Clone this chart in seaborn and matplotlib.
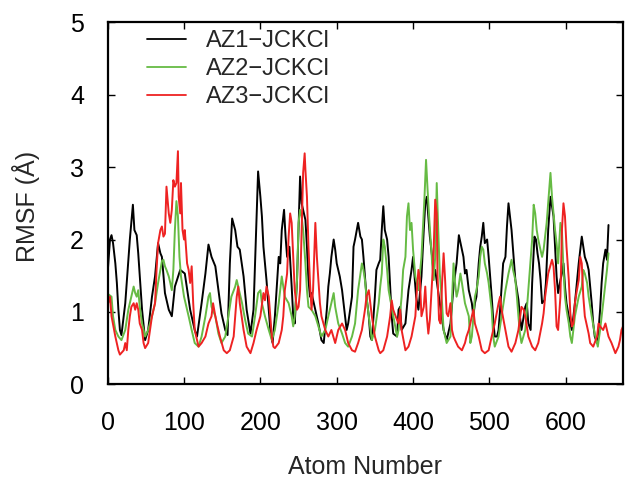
import matplotlib
matplotlib.use("Agg")
import matplotlib.pyplot as plt
import pandas as pd
import seaborn as sns

# ---- data ----
series_names = ["AZ1\u2212JCKCl", "AZ2\u2212JCKCl", "AZ3\u2212JCKCl"]
series_colors = ["#000000", "#66bb44", "#ee2222"]

az1_atom = [
    0, 3, 5, 7, 10, 12, 14, 16, 18, 23,
    27, 29, 33, 35, 38, 40, 42, 45, 49, 53,
    58, 62, 66, 69, 71, 75, 80, 84, 88, 95,
    101, 108, 114, 117, 123, 128, 132, 136, 141, 145,
    149, 154, 157, 160, 163, 167, 170, 173, 178, 182,
    187, 191, 193, 197, 200, 202, 204, 208, 213, 216,
    219, 224, 226, 228, 231, 233, 235, 238, 241, 243,
    245, 248, 250, 252, 254, 256, 259, 261, 263, 265,
    267, 272, 276, 280, 283, 285, 287, 289, 291, 293,
    296, 298, 300, 302, 304, 307, 311, 313, 315, 320,
    322, 324, 328, 331, 333, 335, 337, 339, 342, 344,
    346, 350, 352, 355, 357, 359, 361, 363, 366, 368,
    370, 372, 374, 379, 381, 383, 385, 390, 394, 398,
    400, 404, 407, 411, 414, 416, 418, 420, 422, 425,
    427, 429, 435, 440, 444, 449, 453, 457, 460, 464,
    466, 468, 470, 473, 477, 479, 481, 483, 486, 488,
    490, 492, 494, 497, 499, 501, 503, 505, 507, 510,
    512, 514, 516, 518, 521, 523, 525, 527, 529, 531,
    534, 536, 538, 540, 542, 545, 547, 549, 551, 554,
    556, 559, 561, 563, 565, 567, 569, 572, 574, 577,
    580, 582, 584, 586, 588, 590, 593, 595, 597, 599,
    601, 604, 608, 612, 617, 621, 623, 625, 628, 630,
    632, 634, 636, 638, 641, 643, 645, 647, 649, 652,
    654, 656,
]
az1_rmsf = [
    1.55, 2.00, 2.06, 1.95, 1.67, 1.40, 1.03, 0.75, 0.68, 1.12,
    1.72, 2.00, 2.48, 2.13, 2.06, 1.81, 1.49, 1.03, 0.61, 0.75,
    1.21, 1.49, 1.95, 1.81, 1.76, 1.26, 1.03, 0.94, 1.35, 1.58,
    1.53, 1.03, 0.75, 0.66, 1.12, 1.53, 1.93, 1.76, 1.63, 1.30,
    0.98, 0.75, 0.68, 1.67, 2.29, 2.13, 1.90, 1.86, 1.49, 1.03,
    0.70, 1.03, 1.67, 2.94, 2.59, 2.32, 1.90, 1.44, 0.75, 0.57,
    0.94, 1.76, 1.67, 2.13, 2.41, 2.04, 1.76, 1.90, 1.35, 0.94,
    0.84, 1.44, 2.13, 2.87, 2.50, 2.41, 2.27, 1.90, 1.44, 1.21,
    1.26, 1.03, 0.84, 0.61, 0.57, 0.80, 1.03, 1.35, 1.53, 1.76,
    2.00, 1.86, 1.67, 1.58, 1.49, 1.30, 0.94, 0.75, 0.84, 1.21,
    1.90, 2.00, 2.23, 2.04, 2.00, 1.76, 1.49, 1.21, 0.94, 0.66,
    0.61, 1.21, 1.58, 1.67, 1.72, 2.13, 2.46, 2.13, 2.00, 1.76,
    1.35, 0.94, 0.70, 0.66, 1.03, 1.07, 0.75, 0.84, 1.30, 1.58,
    1.76, 1.21, 1.03, 1.49, 2.13, 2.50, 2.59, 2.32, 2.04, 1.76,
    1.53, 1.58, 1.12, 0.75, 0.61, 0.84, 1.35, 1.67, 2.06, 1.86,
    1.76, 1.53, 1.58, 1.30, 1.12, 0.94, 1.12, 1.21, 1.67, 1.90,
    2.04, 2.23, 1.95, 2.00, 1.76, 1.49, 1.21, 0.89, 0.66, 0.66,
    0.75, 1.03, 1.35, 1.67, 1.76, 2.18, 2.50, 2.32, 2.13, 1.86,
    1.44, 1.30, 1.17, 0.94, 0.75, 0.94, 1.07, 1.12, 0.84, 0.75,
    1.40, 2.04, 2.00, 1.81, 1.67, 1.44, 1.12, 1.16, 1.40, 2.13,
    2.59, 2.46, 2.32, 1.90, 1.49, 1.26, 1.44, 1.53, 1.67, 1.35,
    1.12, 0.94, 0.75, 1.12, 1.67, 2.04, 1.90, 1.76, 1.67, 1.58,
    1.35, 1.12, 0.84, 0.66, 0.57, 0.75, 1.03, 1.40, 1.67, 1.86,
    1.72, 2.20,
]

az2_atom = [
    0, 5, 7, 10, 14, 18, 23, 25, 27, 29,
    31, 34, 36, 38, 40, 42, 45, 49, 53, 58,
    62, 66, 69, 71, 73, 75, 77, 80, 82, 84,
    86, 88, 90, 92, 94, 96, 98, 100, 104, 106,
    110, 114, 119, 123, 128, 132, 134, 136, 141, 145,
    149, 154, 158, 162, 167, 169, 171, 176, 180, 184,
    189, 193, 197, 200, 202, 206, 211, 215, 219, 224,
    228, 230, 232, 237, 241, 243, 245, 248, 250, 252,
    254, 256, 259, 261, 263, 267, 272, 276, 280, 285,
    289, 293, 296, 298, 302, 307, 311, 315, 320, 324,
    328, 333, 335, 337, 339, 342, 346, 350, 355, 357,
    359, 361, 363, 366, 368, 372, 376, 379, 381, 385,
    387, 390, 392, 394, 396, 398, 400, 403, 405, 407,
    411, 415, 417, 419, 421, 425, 427, 429, 431, 433,
    435, 438, 440, 444, 449, 453, 455, 457, 459, 462,
    464, 468, 473, 475, 477, 481, 483, 486, 488, 490,
    492, 494, 497, 499, 503, 505, 507, 512, 516, 521,
    525, 529, 531, 534, 536, 538, 540, 542, 547, 551,
    553, 556, 558, 560, 562, 564, 566, 569, 571, 575,
    580, 582, 584, 586, 588, 590, 593, 595, 597, 599,
    601, 604, 606, 608, 610, 612, 617, 621, 623, 625,
    628, 630, 634, 638, 642, 645, 649, 654, 656,
]
az2_rmsf = [
    1.25, 1.21, 0.94, 0.75, 0.66, 0.61, 0.75, 0.89, 1.03, 1.12,
    1.21, 1.35, 1.26, 1.21, 1.30, 1.07, 0.84, 0.66, 0.75, 0.94,
    1.12, 1.40, 1.58, 1.70, 1.72, 1.63, 1.58, 1.49, 1.40, 1.30,
    1.58, 2.13, 2.53, 2.32, 1.76, 1.49, 1.35, 1.21, 1.03, 0.94,
    0.75, 0.57, 0.52, 0.66, 0.94, 1.21, 1.26, 1.07, 0.94, 0.70,
    0.57, 0.66, 0.94, 1.21, 1.35, 1.44, 1.35, 1.12, 0.89, 0.70,
    0.66, 0.94, 1.26, 1.30, 1.12, 0.94, 0.75, 0.61, 0.75, 1.12,
    1.49, 1.35, 1.21, 1.12, 0.94, 0.80, 0.94, 1.44, 2.23, 2.41,
    2.32, 2.13, 1.67, 1.30, 1.07, 1.03, 0.94, 0.80, 0.66, 0.75,
    0.94, 1.12, 1.26, 1.07, 0.84, 0.70, 0.57, 0.52, 0.66, 0.84,
    1.30, 1.67, 1.58, 1.44, 1.21, 0.94, 0.61, 0.75, 1.12, 1.35,
    1.53, 2.00, 1.90, 1.58, 1.30, 1.07, 0.84, 0.66, 0.75, 1.21,
    1.58, 1.76, 2.32, 2.50, 2.13, 2.23, 1.86, 1.49, 1.40, 1.30,
    1.76, 2.59, 3.10, 2.69, 2.32, 1.67, 1.44, 1.76, 2.78, 2.13,
    1.53, 1.12, 0.75, 0.57, 0.66, 1.67, 1.40, 1.21, 1.30, 1.53,
    1.40, 1.12, 0.94, 0.57, 0.66, 1.21, 1.30, 1.49, 1.76, 1.90,
    1.86, 1.67, 1.53, 1.40, 1.03, 0.66, 0.52, 0.66, 0.94, 1.30,
    1.53, 1.72, 1.58, 1.44, 1.21, 0.94, 0.70, 0.57, 0.75, 1.30,
    1.58, 2.00, 2.48, 2.36, 2.13, 2.00, 1.90, 1.76, 1.86, 2.23,
    2.92, 2.59, 2.36, 2.13, 1.95, 1.67, 2.23, 2.13, 1.58, 1.21,
    1.03, 0.84, 0.66, 0.57, 0.75, 0.94, 1.21, 1.35, 1.58, 1.53,
    1.40, 1.21, 0.94, 0.70, 0.52, 0.75, 1.12, 1.58, 1.81,
]

az3_atom = [
    0, 3, 5, 10, 14, 16, 21, 23, 25, 27,
    29, 31, 34, 36, 38, 40, 42, 45, 47, 49,
    53, 58, 62, 64, 66, 69, 71, 73, 75, 77,
    80, 82, 84, 86, 88, 90, 92, 93, 95, 96,
    98, 100, 101, 104, 106, 108, 110, 112, 114, 117,
    119, 123, 128, 132, 136, 138, 141, 143, 147, 152,
    156, 160, 165, 167, 169, 171, 173, 178, 182, 187,
    191, 195, 200, 204, 206, 208, 211, 213, 215, 217,
    219, 224, 228, 230, 232, 235, 237, 239, 241, 243,
    245, 248, 250, 252, 254, 256, 258, 259, 261, 263,
    265, 267, 269, 272, 274, 276, 278, 280, 285, 289,
    293, 298, 302, 307, 311, 315, 320, 324, 328, 333,
    337, 339, 342, 344, 346, 350, 355, 357, 361, 366,
    370, 372, 374, 379, 381, 383, 385, 390, 394, 398,
    403, 405, 407, 409, 411, 414, 416, 418, 420, 422,
    425, 427, 429, 431, 432, 434, 436, 438, 440, 442,
    444, 446, 449, 451, 453, 455, 459, 464, 468, 470,
    473, 475, 477, 479, 481, 486, 490, 494, 499, 503,
    507, 512, 514, 516, 521, 525, 529, 534, 538, 542,
    545, 547, 551, 556, 560, 564, 569, 571, 573, 577,
    582, 584, 586, 588, 590, 593, 595, 597, 599, 601,
    604, 606, 608, 610, 612, 614, 617, 619, 621, 623,
    625, 630, 632, 636, 641, 643, 645, 649, 652, 656,
    660, 665, 669, 671, 673, 675,
]
az3_rmsf = [
    1.10, 1.21, 0.94, 0.66, 0.47, 0.41, 0.47, 0.57, 0.47, 0.75,
    0.94, 1.07, 1.12, 1.03, 1.12, 1.03, 0.84, 0.75, 0.57, 0.50,
    0.57, 0.94, 1.12, 1.58, 1.95, 2.13, 2.18, 2.04, 2.08, 2.73,
    2.36, 2.23, 2.41, 2.82, 2.73, 2.78, 3.22, 2.59, 2.36, 2.78,
    2.13, 2.00, 2.13, 1.67, 1.58, 1.40, 1.63, 1.12, 0.75, 0.61,
    0.52, 0.57, 0.66, 0.84, 0.94, 1.12, 0.94, 0.84, 0.66, 0.47,
    0.43, 0.47, 0.66, 0.94, 1.21, 1.35, 1.12, 0.75, 0.52, 0.43,
    0.57, 0.75, 0.94, 1.26, 1.16, 1.35, 1.21, 0.94, 0.66, 0.52,
    0.50, 0.57, 0.75, 0.94, 1.30, 1.53, 2.04, 2.36, 2.23, 1.76,
    1.30, 1.03, 1.07, 1.30, 2.13, 2.92, 3.19, 2.96, 2.59, 1.90,
    1.40, 1.03, 1.30, 2.23, 1.76, 1.44, 1.12, 0.94, 0.75, 0.66,
    0.75, 0.57, 0.75, 0.84, 0.75, 0.57, 0.47, 0.45, 0.57, 0.75,
    1.03, 1.21, 1.30, 1.12, 0.94, 0.66, 0.47, 0.43, 0.47, 0.66,
    0.94, 1.16, 1.03, 0.89, 0.84, 1.03, 0.75, 0.47, 0.52, 0.66,
    0.94, 1.30, 1.58, 1.44, 0.94, 1.07, 1.35, 0.94, 0.70, 0.89,
    1.44, 1.86, 2.55, 2.36, 1.53, 0.89, 0.84, 1.40, 1.81, 1.44,
    0.98, 0.94, 1.12, 0.75, 0.66, 0.61, 0.52, 0.47, 0.57, 0.66,
    0.75, 0.84, 0.94, 1.03, 0.84, 0.66, 0.47, 0.43, 0.47, 0.66,
    0.84, 1.12, 1.21, 1.03, 0.75, 0.52, 0.45, 0.57, 0.75, 1.07,
    1.03, 0.94, 0.66, 0.52, 0.47, 0.57, 0.84, 0.98, 1.21, 1.53,
    1.72, 1.63, 1.30, 0.80, 0.75, 1.21, 2.13, 2.50, 2.32, 1.90,
    1.44, 0.98, 0.80, 0.84, 1.12, 1.26, 1.44, 1.76, 1.67, 1.21,
    0.94, 0.70, 0.57, 0.52, 0.66, 0.84, 0.80, 0.75, 0.84, 0.66,
    0.57, 0.43, 0.52, 0.61, 0.75, 0.80,
]

x_ticks = [0, 100, 200, 300, 400, 500, 600]
y_ticks = [0, 1, 2, 3, 4, 5]
x_label = "Atom Number"
y_label = "RMSF (\u00c5)"

# ---- build long table ----
frames = []
for name, xs, ys in zip(series_names,
                        [az1_atom, az2_atom, az3_atom],
                        [az1_rmsf, az2_rmsf, az3_rmsf]):
    frames.append(pd.DataFrame({"Atom": xs, "RMSF": ys, "System": name}))
df = pd.concat(frames, ignore_index=True)

sns.set_style("ticks")
plt.rcParams["font.family"] = ["Liberation Sans", "DejaVu Sans"]

W, H = 627, 479
fig = plt.figure(figsize=(W / 100, H / 100), dpi=100)
left, right, top, bottom = 107.7, 623.0, 22.3, 384.3
ax = fig.add_axes([left / W, 1 - bottom / H, (right - left) / W, (bottom - top) / H])

sns.lineplot(data=df, x="Atom", y="RMSF", hue="System",
             hue_order=series_names, palette=series_colors,
             estimator=None, sort=False, linewidth=1.4, ax=ax)

ax.set_xlim(0, 675)
ax.set_ylim(0, 5)
ax.set_xticks(x_ticks)
ax.set_yticks(y_ticks)
for s in ax.spines.values():
    s.set_visible(True)
    s.set_linewidth(1.6)
    s.set_color("black")
ax.tick_params(direction="in", length=5, width=1.0, top=True, right=True,
               labelsize=18, colors="black")
ax.tick_params(axis="x", pad=19)
ax.tick_params(axis="y", pad=17)

ax.set_xlabel(x_label, fontsize=18)
ax.set_ylabel(y_label, fontsize=18)
ax.xaxis.set_label_coords(0.5, (bottom - 474) / (bottom - top))
ax.xaxis.label.set_va("baseline")
ax.yaxis.set_label_coords((26 - left) / (right - left), (bottom - 206.5) / (bottom - top))
ax.yaxis.label.set_va("center")

leg = ax.legend(loc="upper left", bbox_to_anchor=(146.7 / W, 1 - 30 / H),
                bbox_transform=fig.transFigure, frameon=False, fontsize=17,
                handlelength=1.65, handletextpad=0.85, labelspacing=0.25,
                borderpad=0, borderaxespad=0)
for line in leg.get_lines():
    line.set_linewidth(1.3)

fig.savefig("out.png", dpi=100)
